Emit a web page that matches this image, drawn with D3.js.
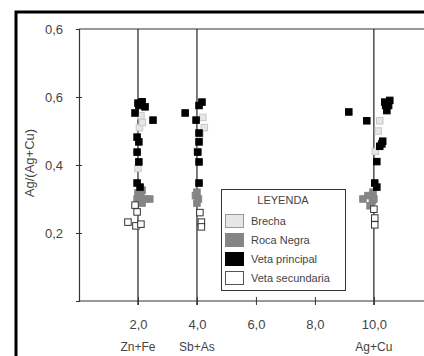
<!DOCTYPE html>
<html><head><meta charset="utf-8">
<script src="https://cdn.jsdelivr.net/npm/d3@7"></script>
<style>body{margin:0;background:#fff}svg{display:block}</style>
</head><body>
<script>
// ---- data ----
const xTicks = [2, 4, 6, 8, 10];
const xTickLabels = ["2,0", "4,0", "6,0", "8,0", "10,0"];
const refLines = [2, 4, 10];
const refLabels = ["Zn+Fe", "Sb+As", "Ag+Cu"];
const yTicks = [0.2, 0.4, 0.6, 0.8];
const yTickLabels = ["0,2", "0,4", "0,6", "0,6"];
const seriesNames = ["Brecha", "Roca Negra", "Veta principal", "Veta secundaria"];
const brecha = [[2.1,0.545],[2.05,0.51],[2.15,0.525],[4.2,0.54],[4.25,0.51],[4.1,0.49],[10.2,0.53],[10.15,0.50],[10.05,0.44],[2.0,0.39],[4.0,0.44]];
const rocaNegra = [[2.0,0.318],[2.14,0.326],[2.4,0.30],[1.97,0.30],[2.14,0.288],[2.24,0.30],[2.1,0.31],
                   [4.0,0.32],[4.05,0.30],[4.0,0.288],[3.95,0.31],
                   [9.63,0.30],[9.8,0.31],[9.95,0.295],[9.97,0.32],[9.87,0.28],[10.0,0.30]];
const vetaPrincipal = [[2.0,0.582],[2.14,0.586],[2.24,0.571],[1.9,0.553],[2.51,0.532],[3.6,0.553],[1.97,0.482],[2.03,0.468],[1.97,0.438],[2.03,0.409],[1.97,0.347],[2.07,0.335],[2.03,0.575],
                       [4.17,0.585],[4.07,0.575],[3.97,0.532],[4.07,0.494],[4.07,0.468],[4.03,0.438],[4.07,0.409],[4.07,0.347],
                       [9.15,0.556],[9.76,0.53],[10.37,0.585],[10.54,0.59],[10.44,0.56],[10.3,0.47],[10.27,0.462],[10.2,0.455],[10.1,0.41],[10.03,0.347],[10.1,0.335],[10.5,0.575],[10.4,0.575]];
const vetaSecundaria = [[1.9,0.282],[1.97,0.262],[1.66,0.232],[1.93,0.221],[2.1,0.226],
                        [4.1,0.26],[4.15,0.232],[4.15,0.218],
                        [10.0,0.27],[10.03,0.244],[10.03,0.224]];

// ---- chart ----
const W = 424, H = 356;
const svg = d3.select("body").append("svg").attr("width", W).attr("height", H)
  .style("font-family", "'Liberation Sans', Arial, sans-serif");
const x = d3.scaleLinear().domain([0, 11.7]).range([79, 424]);
const y = d3.scaleLinear().domain([0, 0.8]).range([301, 29]);
const txt = "#444";

// outer frame
svg.append("path").attr("d", `M16,${H} L16,12 L${W},12`).attr("fill", "none")
  .attr("stroke", "#000").attr("stroke-width", 3);

// top line
svg.append("line").attr("x1", x(0)).attr("x2", W).attr("y1", y(0.8)).attr("y2", y(0.8))
  .attr("stroke", "#333").attr("stroke-width", 1.2);

// reference vertical lines
svg.selectAll(".ref").data(refLines).join("line")
  .attr("x1", d => x(d)).attr("x2", d => x(d)).attr("y1", y(0.8)).attr("y2", y(0) + 4)
  .attr("stroke", "#222").attr("stroke-width", 1.2);

// y axis
const yAxis = svg.append("g").attr("transform", `translate(${x(0)},0)`)
  .call(d3.axisLeft(y).tickValues(yTicks).tickFormat((d, i) => yTickLabels[i]).tickSize(3).tickPadding(13));
yAxis.select(".domain").attr("stroke", "#333").attr("stroke-width", 1.2);
yAxis.selectAll(".tick line").attr("x2", -3).attr("x1", 3).attr("stroke", "#333")
  .style("display", d => d === 0.8 ? "none" : null);
yAxis.selectAll(".tick text").attr("fill", txt).style("font-size", "13px");

// x axis
const xAxis = svg.append("g").attr("transform", `translate(0,${y(0)})`)
  .call(d3.axisBottom(x).tickValues(xTicks).tickFormat((d, i) => xTickLabels[i]).tickSize(4).tickPadding(15));
xAxis.select(".domain").attr("stroke", "#333").attr("stroke-width", 1.2).attr("d", `M${x(0)},0H${W}`);
xAxis.selectAll(".tick line").attr("y1", -4).attr("stroke", "#333");
xAxis.selectAll(".tick text").attr("fill", txt).style("font-size", "13px");

// sub labels
svg.selectAll(".sub").data(refLines).join("text")
  .attr("x", d => x(d)).attr("y", 351).attr("text-anchor", "middle")
  .attr("fill", txt).style("font-size", "12px").text((d, i) => refLabels[i]);

// y title
svg.append("text").attr("transform", `translate(34,163) rotate(-90)`).attr("text-anchor", "middle")
  .attr("fill", txt).style("font-size", "13px").text("Ag/(Ag+Cu)");

// points
const s = 6.5;
function drawPts(data, fill, stroke) {
  svg.append("g").selectAll("rect").data(data).join("rect")
    .attr("x", d => x(d[0]) - s / 2).attr("y", d => y(d[1]) - s / 2)
    .attr("width", s).attr("height", s)
    .attr("fill", fill).attr("stroke", stroke).attr("stroke-width", 1);
}
drawPts(brecha, "#e6e6e6", "#c8c8c8");
drawPts(rocaNegra, "#858585", "#858585");
drawPts(vetaPrincipal, "#000", "#000");
drawPts(vetaSecundaria, "#fff", "#333");

// legend
const lg = svg.append("g");
lg.append("rect").attr("x", 221.5).attr("y", 189.5).attr("width", 124).attr("height", 101)
  .attr("fill", "#fff").attr("stroke", "#333");
lg.append("text").attr("x", 283).attr("y", 204).attr("text-anchor", "middle")
  .attr("fill", txt).style("font-size", "11px").text("LEYENDA");
const swFill = ["#e6e6e6", "#858585", "#000", "#fff"];
const swStroke = ["#999", "#858585", "#000", "#555"];
const rowY = [221, 240, 259, 278];
seriesNames.forEach((n, i) => {
  lg.append("rect").attr("x", 225.5).attr("y", rowY[i] - 6.5).attr("width", 18).attr("height", 13)
    .attr("fill", swFill[i]).attr("stroke", swStroke[i]);
  lg.append("text").attr("x", 251).attr("y", rowY[i] + 4).attr("fill", txt)
    .style("font-size", "11px").text(n);
});
</script>
</body></html>
